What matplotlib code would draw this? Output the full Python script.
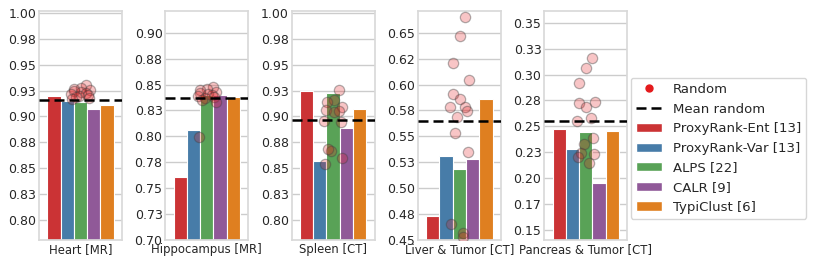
import numpy as np
import matplotlib
matplotlib.use("Agg")
import matplotlib.pyplot as plt
import seaborn as sns
from matplotlib.lines import Line2D
from matplotlib.patches import Patch

sns.set_theme(style="whitegrid")
plt.rcParams['font.family'] = ['DejaVu Sans']

datasets = ["Heart [MR]", "Hippocampus [MR]", "Spleen [CT]", "Liver & Tumor [CT]", "Pancreas & Tumor [CT]"]
methods = ["ProxyRank-Ent [13]", "ProxyRank-Var [13]", "ALPS [22]", "CALR [9]", "TypiClust [6]"]

proxyrank_ent = [0.920, 0.761, 0.925, 0.473, 0.247]
proxyrank_var = [0.915, 0.806, 0.857, 0.531, 0.228]
alps = [0.914, 0.840, 0.923, 0.519, 0.245]
calr = [0.907, 0.840, 0.889, 0.528, 0.195]
typiclust = [0.911, 0.838, 0.907, 0.586, 0.2455]

mean_random = [0.916, 0.837, 0.8964, 0.5651, 0.2549]

random_heart = [0.930, 0.928, 0.927, 0.926, 0.925, 0.924, 0.923, 0.922, 0.921, 0.920, 0.919, 0.918, 0.917]
random_hippo = [0.848, 0.846, 0.845, 0.843, 0.842, 0.841, 0.840, 0.839, 0.838, 0.837, 0.835, 0.833, 0.799]
random_spleen = [0.9257, 0.9161, 0.9135, 0.9096, 0.9064, 0.9047, 0.9054, 0.8960, 0.8951, 0.8670, 0.8683, 0.8596, 0.8538]
random_liver = [0.6648, 0.6471, 0.6204, 0.6043, 0.5908, 0.5857, 0.5786, 0.5786, 0.5744, 0.5684, 0.5535, 0.5352, 0.4654, 0.4570, 0.4532]
random_pancreas = [0.3162, 0.3066, 0.2921, 0.2738, 0.2722, 0.2684, 0.2577, 0.2554, 0.2385, 0.2327, 0.2246, 0.2233, 0.2207, 0.2149]
random_points = [random_heart, random_hippo, random_spleen, random_liver, random_pancreas]

ylims = [(0.7805, 1.002), (0.70, 0.921), (0.7805, 1.002), (0.45, 0.671), (0.1404, 0.3613)]
tick_vals = [
    [0.80, 0.825, 0.85, 0.875, 0.90, 0.925, 0.95, 0.975, 1.00],
    [0.70, 0.725, 0.75, 0.775, 0.80, 0.825, 0.85, 0.875, 0.90],
    [0.80, 0.825, 0.85, 0.875, 0.90, 0.925, 0.95, 0.975, 1.00],
    [0.45, 0.475, 0.50, 0.525, 0.55, 0.575, 0.60, 0.625, 0.65],
    [0.15, 0.175, 0.20, 0.225, 0.25, 0.275, 0.30, 0.325, 0.35],
]
tick_labels = [
    ["0.80", "0.83", "0.85", "0.88", "0.90", "0.93", "0.95", "0.98", "1.00"],
    ["0.70", "0.73", "0.75", "0.78", "0.80", "0.83", "0.85", "0.88", "0.90"],
    ["0.80", "0.83", "0.85", "0.88", "0.90", "0.93", "0.95", "0.98", "1.00"],
    ["0.45", "0.48", "0.50", "0.53", "0.55", "0.58", "0.60", "0.62", "0.65"],
    ["0.15", "0.17", "0.20", "0.23", "0.25", "0.28", "0.30", "0.33", "0.35"],
]

series = [proxyrank_ent, proxyrank_var, alps, calr, typiclust]
colors = sns.color_palette("Set1", 5, desat=0.75)

W, H = 814, 265
fig = plt.figure(figsize=(W / 100, H / 100), dpi=100)

fs = 9
bw = 0.8 / 5
for i, ds in enumerate(datasets):
    left = 39 + 126.3 * i
    ax = fig.add_axes([left / W, 25 / H, 83 / W, 229 / H])
    for j, s in enumerate(series):
        x = -0.4 + bw * (j + 0.5)
        ax.bar(x, s[i], width=bw, color=colors[j], edgecolor="white", linewidth=0.8, zorder=2)
    pts = np.array(random_points[i])
    n = len(pts)
    jit = 0.11 * np.sin(np.arange(n) * 2.39 + 0.7)
    ax.scatter(jit, pts, s=55, facecolor=(0.894, 0.102, 0.110, 0.25),
               edgecolor=(0.25, 0.25, 0.25, 0.4), linewidth=0.9, zorder=3, clip_on=True)
    ax.axhline(mean_random[i], color="black", linestyle=(0, (4, 2)), linewidth=1.8, zorder=4)
    ax.set_xlim(-0.5, 0.5)
    ax.set_ylim(*ylims[i])
    ax.set_yticks(tick_vals[i])
    ax.set_yticklabels(tick_labels[i], fontsize=fs)
    ax.set_xticks([0])
    ax.set_xticklabels([ds], fontsize=8.4)
    ax.xaxis.grid(False)
    ax.tick_params(axis='both', pad=2, length=0)
    for sp in ax.spines.values():
        sp.set_color("0.85")

handles = [
    Line2D([], [], marker="o", color="none", markerfacecolor="#e41a1c", markeredgecolor="#e41a1c", markersize=5),
    Line2D([], [], color="black", linestyle=(0, (4, 2)), linewidth=1.8),
] + [Patch(facecolor=c, edgecolor="white") for c in colors]
labels = ["Random", "Mean random"] + methods
fig.legend(handles, labels, loc="center left", bbox_to_anchor=(624 / W, 0.44), fontsize=9.5,
           frameon=True, borderpad=0.4, labelspacing=0.5, handlelength=2.0)

fig.savefig("out.png", dpi=100)
